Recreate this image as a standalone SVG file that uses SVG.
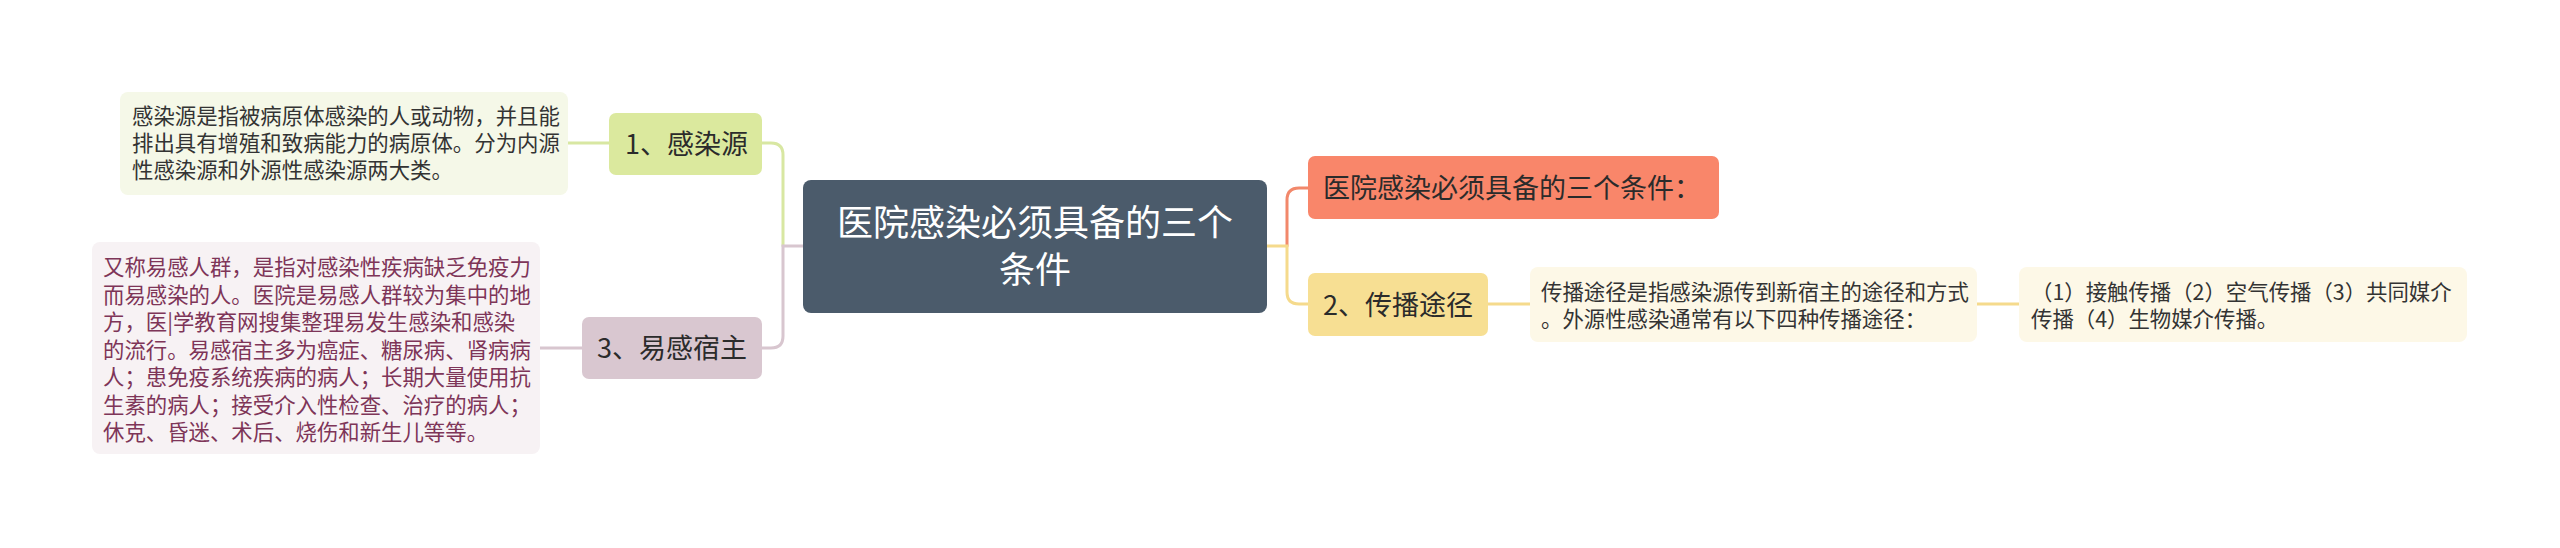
<svg xmlns="http://www.w3.org/2000/svg" width="2560" height="548" viewBox="0 0 2560 548">
<style>
text{font-family:"Noto Sans CJK SC","Noto Sans",sans-serif;}
.t{font-size:21.4px;fill:#333333;}
.tm{font-size:21.4px;fill:#7e3558;}
.n{font-size:27px;fill:#2b2b2b;}
.c{font-size:36px;fill:#ffffff;}
.ln{fill:none;stroke-width:3;stroke-linecap:round;}
</style>
<rect width="2560" height="548" fill="#ffffff"/>
<g id="connectors">
<path class="ln" stroke="#d8e7a2" d="M783 246 V155 Q783 143 771 143 H762 M609 143 H568"/>
<path class="ln" stroke="#d8c6cf" d="M803 246 H783 V336 Q783 348 771 348 H762 M582 348 H540"/>
<path class="ln" stroke="#f2886b" d="M1287 246 V200 Q1287 188 1299 188 H1308"/>
<path class="ln" stroke="#f5da8c" d="M1267 246 H1287 V292 Q1287 304 1299 304 H1308 M1488 304 H1530 M1977 304 H2019"/>
</g>
<g id="central">
<rect x="803" y="180" width="464" height="133" rx="8" fill="#4b5b6b"/>
<text class="c" x="1035" y="236" text-anchor="middle">医院感染必须具备的三个</text>
<text class="c" x="1035" y="283" text-anchor="middle">条件</text>
</g>
<g id="node-1">
<rect x="609" y="113" width="153" height="62" rx="7" fill="#dbe99e"/>
<text class="n" x="625" y="154">1、感染源</text>
</g>
<g id="note-1">
<rect x="120" y="92" width="448" height="103" rx="8" fill="#f5f8e8"/>
<text class="t" x="132" y="123.5">感染源是指被病原体感染的人或动物，并且能</text>
<text class="t" x="132" y="150.5">排出具有增殖和致病能力的病原体。分为内源</text>
<text class="t" x="132" y="177.5">性感染源和外源性感染源两大类。</text>
</g>
<g id="node-3">
<rect x="582" y="317" width="180" height="62" rx="7" fill="#d9c7d0"/>
<text class="n" x="597" y="358">3、易感宿主</text>
</g>
<g id="note-3">
<rect x="92" y="242" width="448" height="212" rx="8" fill="#f7f2f4"/>
<text class="tm" x="103" y="275">又称易感人群，是指对感染性疾病缺乏免疫力</text>
<text class="tm" x="103" y="302.5">而易感染的人。医院是易感人群较为集中的地</text>
<text class="tm" x="103" y="330">方，医|学教育网搜集整理易发生感染和感染</text>
<text class="tm" x="103" y="357.5">的流行。易感宿主多为癌症、糖尿病、肾病病</text>
<text class="tm" x="103" y="385">人；患免疫系统疾病的病人；长期大量使用抗</text>
<text class="tm" x="103" y="412.5">生素的病人；接受介入性检查、治疗的病人；</text>
<text class="tm" x="103" y="440">休克、昏迷、术后、烧伤和新生儿等等。</text>
</g>
<g id="node-red">
<rect x="1308" y="156" width="411" height="63" rx="7" fill="#f9866a"/>
<text class="n" x="1323" y="198">医院感染必须具备的三个条件：</text>
</g>
<g id="node-2">
<rect x="1308" y="273" width="180" height="63" rx="7" fill="#f7df93"/>
<text class="n" x="1323" y="315">2、传播途径</text>
</g>
<g id="note-2">
<rect x="1530" y="267" width="447" height="75" rx="8" fill="#fdf8e7"/>
<text class="t" x="1541" y="300">传播途径是指感染源传到新宿主的途径和方式</text>
<text class="t" x="1541" y="327">。外源性感染通常有以下四种传播途径：</text>
</g>
<g id="note-4">
<rect x="2019" y="267" width="448" height="75" rx="8" fill="#fdf8e7"/>
<text class="t" x="2031" y="300">（1）接触传播（2）空气传播（3）共同媒介</text>
<text class="t" x="2031" y="327">传播（4）生物媒介传播。</text>
</g>
</svg>
